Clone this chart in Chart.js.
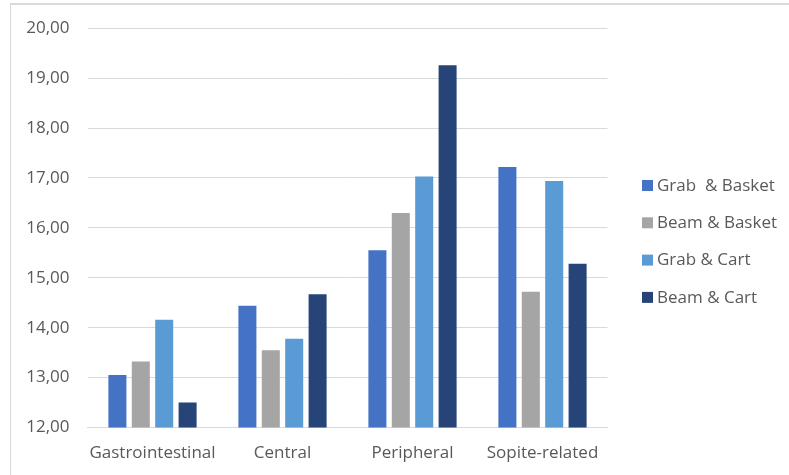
<!DOCTYPE html>
<html>
<head>
<meta charset="utf-8">
<script src="https://cdn.jsdelivr.net/npm/chart.js@4/dist/chart.umd.min.js"></script>
<style>
  html, body { margin: 0; padding: 0; background: #ffffff; }
  #wrap { position: relative; width: 789px; height: 475px; }
</style>
</head>
<body>
<div id="wrap"><canvas id="c" width="789" height="475"></canvas></div>
<script>
// Symptom categories and scores per transfer method
const categories = ['Gastrointestinal', 'Central', 'Peripheral', 'Sopite-related'];
const grabBasket = [13.05, 14.44, 15.55, 17.22];
const beamBasket = [13.32, 13.55, 16.30, 14.72];
const grabCart   = [14.16, 13.78, 17.03, 16.94];
const beamCart   = [12.50, 14.67, 19.26, 15.28];
const seriesNames = ['Grab  & Basket', 'Beam & Basket', 'Grab & Cart', 'Beam & Cart'];
const yTicks = [12, 13, 14, 15, 16, 17, 18, 19, 20];

const colors = ['#4472C4', '#A5A5A5', '#5B9BD5', '#264478'];
const FONT = '"Open Sans", "DejaVu Sans", sans-serif';
const TEXT = '#595959';

// Frame around the chart and the legend at the right
const decor = {
  id: 'decor',
  beforeDraw(chart) {
    const ctx = chart.ctx;
    ctx.save();
    ctx.fillStyle = '#ffffff';
    ctx.fillRect(0, 0, chart.width, chart.height);
    ctx.strokeStyle = '#d9d9d9';
    ctx.lineWidth = 2;
    ctx.beginPath();
    ctx.moveTo(10, 4);
    ctx.lineTo(789, 4);
    ctx.stroke();
    ctx.lineWidth = 1;
    ctx.beginPath();
    ctx.moveTo(10.5, 4);
    ctx.lineTo(10.5, 475);
    ctx.stroke();
    ctx.restore();
  },
  afterDraw(chart) {
    const ctx = chart.ctx;
    ctx.save();
    ctx.font = '17px ' + FONT;
    ctx.textBaseline = 'middle';
    ctx.textAlign = 'left';
    chart.data.datasets.forEach((ds, i) => {
      const cy = 185.5 + i * 37.3;
      ctx.fillStyle = ds.backgroundColor;
      ctx.fillRect(642, cy - 5.5, 11, 11);
      ctx.fillStyle = TEXT;
      ctx.fillText(ds.label, 657, cy + 0.5);
    });
    ctx.restore();
  }
};

const series = [grabBasket, beamBasket, grabCart, beamCart];

new Chart(document.getElementById('c'), {
  type: 'bar',
  data: {
    labels: categories,
    datasets: series.map((vals, i) => ({
      label: seriesNames[i],
      data: vals,
      backgroundColor: colors[i],
      borderWidth: 0,
      categoryPercentage: 0.72,
      barPercentage: 0.77
    }))
  },
  options: {
    responsive: false,
    animation: false,
    devicePixelRatio: 1,
    layout: { padding: { left: 10, top: 27.5, right: 181.5, bottom: 0 } },
    plugins: { legend: { display: false }, tooltip: { enabled: false } },
    scales: {
      x: {
        grid: { display: false, drawTicks: false },
        border: { display: true, color: '#d9d9d9', width: 1 },
        ticks: { color: TEXT, font: { family: FONT, size: 17 }, padding: 15.5, maxRotation: 0 },
        afterFit(scale) { scale.height = 47.5; }
      },
      y: {
        min: 12,
        max: 20,
        afterBuildTicks(scale) { scale.ticks = yTicks.map(v => ({ value: v })); },
        grid: { color: '#d9d9d9', lineWidth: 1, drawTicks: false },
        border: { display: false },
        ticks: {
          color: TEXT,
          font: { family: FONT, size: 17 },
          padding: 18,
          callback: (v) => Number(v).toFixed(2).replace('.', ',')
        },
        afterFit(scale) { scale.width = 77.5; }
      }
    }
  },
  plugins: [decor]
});
</script>
</body>
</html>
